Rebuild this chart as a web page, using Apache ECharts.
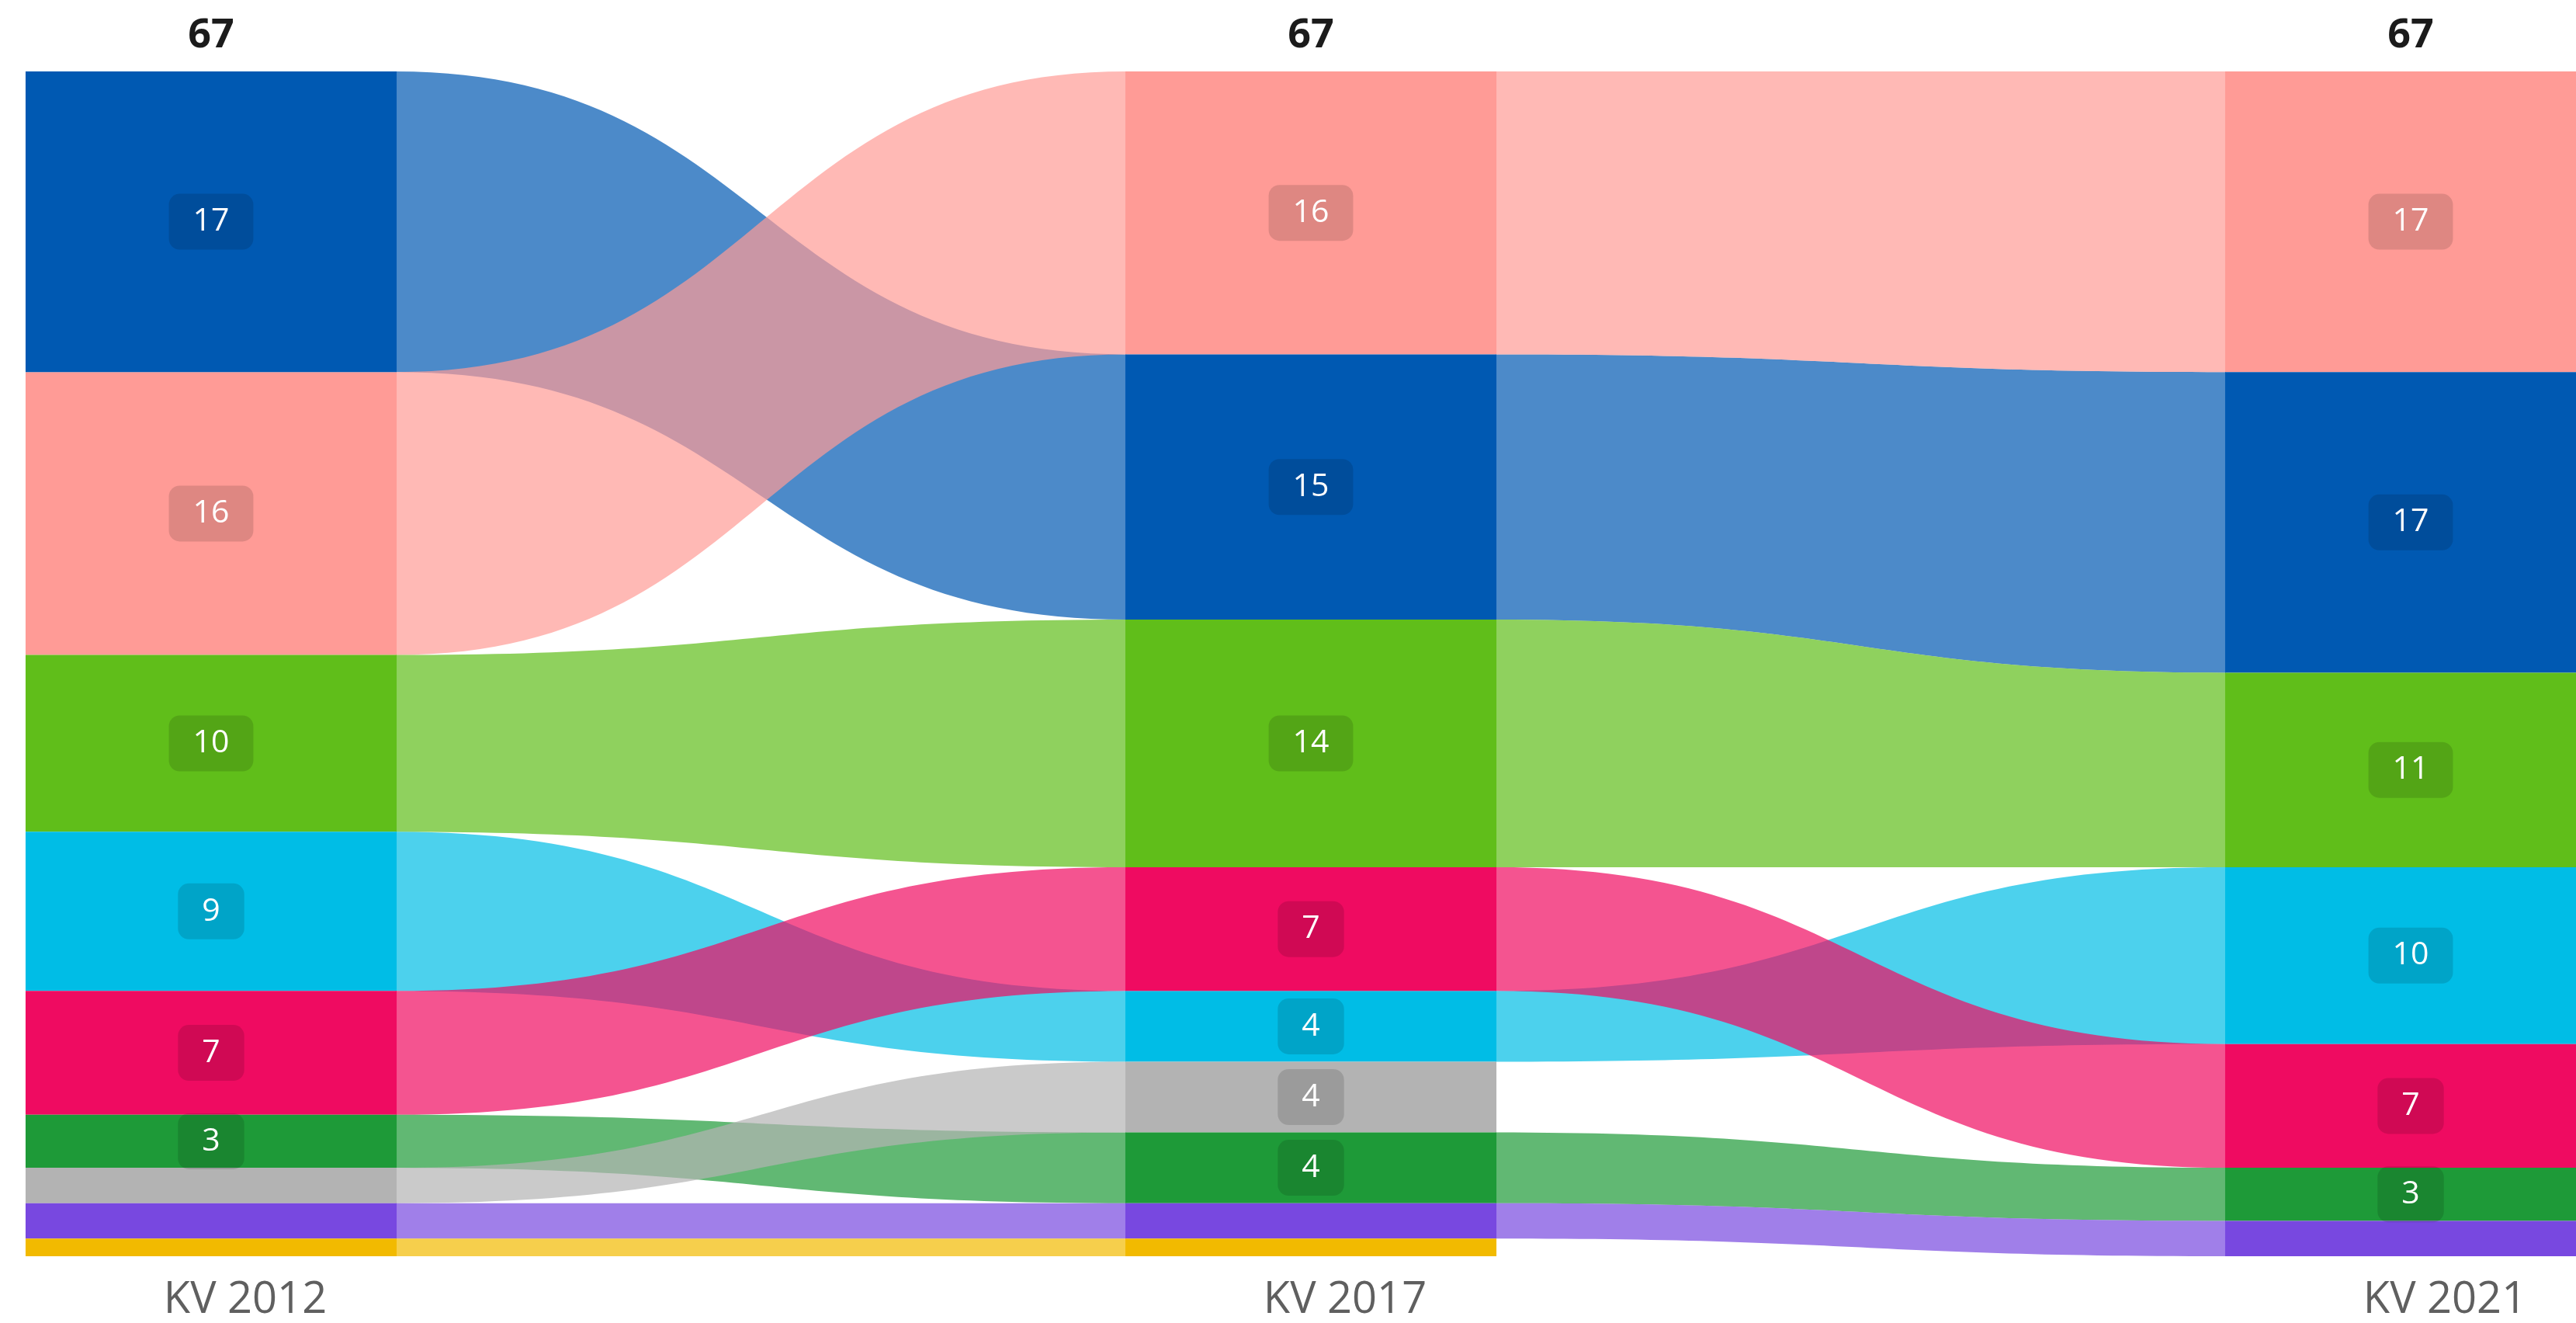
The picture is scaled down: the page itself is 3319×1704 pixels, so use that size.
<!DOCTYPE html>
<html>
<head>
<meta charset="utf-8">
<title>KV 2012 - KV 2021</title>
<script src="https://cdn.jsdelivr.net/npm/echarts@6/dist/echarts.min.js"></script>
<style>
  html, body { margin: 0; padding: 0; background: #fff; }
  #chart { width: 3319px; height: 1704px; }
</style>
</head>
<body>
<div id="chart"></div>
<script>
// columns (elections)
const elections = ["KV 2012", "KV 2017", "KV 2021"];

// parties, in tie-break order
const parties = ["Parti A", "Parti B", "Parti C", "Parti D", "Parti E", "Parti F", "Parti G", "Parti H", "Parti I"];
const partyColors = ["#FF9B96", "#0059B2", "#60BE1A", "#00BDE6", "#EF0B61", "#B3B3B3", "#1E9A38", "#7848E0", "#F2BA00"];

// seats per party
const seats2012 = [16, 17, 10, 9, 7, 2, 3, 2, 1];
const seats2017 = [16, 15, 14, 4, 7, 4, 4, 2, 1];
const seats2021 = [17, 17, 11, 10, 7, 0, 3, 2, 0];

const NODE_HALF = 0.1687; // half node width, in column units
const LABEL_MIN = 3;      // smaller nodes get no label
const FONT = "'Segoe UI', 'Open Sans', sans-serif";

const columns = [seats2012, seats2017, seats2021];

// stack each column largest first
const stacks = columns.map((vals) => {
  const order = vals.map((v, i) => i).filter((i) => vals[i] > 0)
    .sort((a, b) => vals[b] - vals[a] || a - b);
  const pos = {};
  let acc = 0;
  order.forEach((i) => {
    pos[i] = [acc, acc + vals[i]];
    acc += vals[i];
  });
  return pos;
});
const totals = columns.map((vals) => vals.reduce((s, v) => s + v, 0));

const nodeData = [];
columns.forEach((vals, c) => {
  vals.forEach((v, p) => {
    if (v > 0) nodeData.push([c, stacks[c][p][0], stacks[c][p][1], p, v]);
  });
});

// links drawn in order of the first column
const drawOrder = Object.keys(stacks[0]).map(Number)
  .sort((a, b) => stacks[0][a][0] - stacks[0][b][0]);
const linkData = [];
for (let c = 0; c < columns.length - 1; c++) {
  drawOrder.forEach((p) => {
    const a = stacks[c][p], b = stacks[c + 1][p];
    if (a && b) linkData.push([c, a[0], a[1], b[0], b[1], p]);
  });
}

function curve(x0, y0, x1, y1) {
  const xm = (x0 + x1) / 2;
  const pts = [];
  for (let i = 0; i <= 60; i++) {
    const t = i / 60, u = 1 - t;
    const x = u * u * u * x0 + 3 * u * u * t * xm + 3 * u * t * t * xm + t * t * t * x1;
    const y = u * u * u * y0 + 3 * u * u * t * y0 + 3 * u * t * t * y1 + t * t * t * y1;
    pts.push([x, y]);
  }
  return pts;
}

const chart = echarts.init(document.getElementById("chart"));
chart.setOption({
  animation: false,
  grid: { left: 272, right: 213, top: 92, bottom: 86 },
  xAxis: {
    type: "value",
    min: 0,
    max: 2,
    interval: 1,
    axisLine: { show: false },
    axisTick: { show: false },
    splitLine: { show: false },
    axisLabel: {
      formatter: (v) => elections[v] || "",
      fontFamily: FONT,
      fontSize: 56,
      lineHeight: 56,
      color: "#5f5f5f",
      margin: 29,
      padding: [0, 0, 0, 88],
      showMinLabel: true,
      showMaxLabel: true,
    },
  },
  yAxis: { type: "value", inverse: true, min: 0, max: 67, show: false },
  series: [
    {
      type: "custom",
      name: "links",
      clip: false,
      data: linkData,
      encode: { x: 0, y: [1, 2] },
      renderItem(params, api) {
        const c = api.value(0);
        const p = api.value(5);
        const hw = api.size([1, 0])[0] * NODE_HALF;
        const a0 = api.coord([c, api.value(1)]);
        const a1 = api.coord([c, api.value(2)]);
        const b0 = api.coord([c + 1, api.value(3)]);
        const b1 = api.coord([c + 1, api.value(4)]);
        const xa = a0[0] + hw - 1;
        const xb = b0[0] - hw + 1;
        const pts = curve(xa, a0[1], xb, b0[1]).concat(curve(xb, b1[1], xa, a1[1]));
        return {
          type: "polygon",
          shape: { points: pts },
          style: { fill: partyColors[p], opacity: 0.7 },
        };
      },
    },
    {
      type: "custom",
      name: "nodes",
      clip: false,
      data: nodeData,
      encode: { x: 0, y: [1, 2] },
      renderItem(params, api) {
        const c = api.value(0);
        const p = api.value(3);
        const v = api.value(4);
        const hw = api.size([1, 0])[0] * NODE_HALF;
        const p0 = api.coord([c, api.value(1)]);
        const p1 = api.coord([c, api.value(2)]);
        const children = [{
          type: "rect",
          shape: { x: p0[0] - hw, y: p0[1], width: 2 * hw, height: p1[1] - p0[1] },
          style: { fill: partyColors[p] },
        }];
        if (v >= LABEL_MIN) {
          children.push({
            type: "text",
            z2: 10,
            x: p0[0],
            y: (p0[1] + p1[1]) / 2,
            style: {
              text: String(v),
              fill: "#fff",
              fontFamily: FONT,
              fontSize: 41,
              lineHeight: 42,
              align: "center",
              verticalAlign: "middle",
              backgroundColor: "rgba(0,0,0,0.13)",
              padding: [15, 31],
              borderRadius: 14,
            },
          });
        }
        return { type: "group", children };
      },
    },
    {
      type: "custom",
      name: "totals",
      clip: false,
      data: totals.map((t, c) => [c, 0, t]),
      encode: { x: 0, y: 1 },
      renderItem(params, api) {
        const pt = api.coord([api.value(0), 0]);
        return {
          type: "text",
          x: pt[0],
          y: pt[1] - 46,
          style: {
            text: String(api.value(2)),
            fill: "#1b1b1b",
            fontFamily: FONT,
            fontSize: 52,
            fontWeight: "bold",
            align: "center",
            verticalAlign: "middle",
          },
        };
      },
    },
  ],
});
</script>
</body>
</html>
